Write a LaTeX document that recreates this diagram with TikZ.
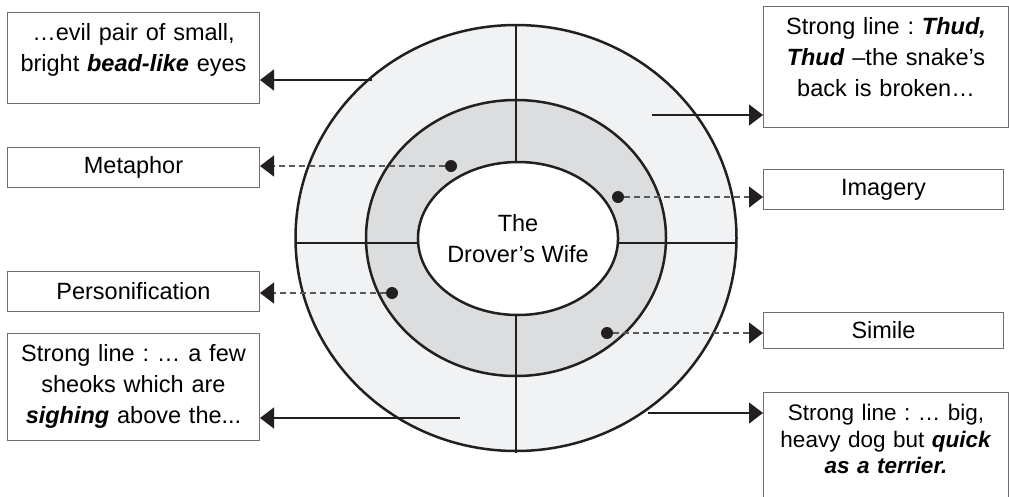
\documentclass[tikz,border=0pt]{standalone}
\usepackage{fontspec}
\setmainfont{Liberation Sans}
\usetikzlibrary{arrows.meta,shapes.geometric}
\definecolor{inkline}{RGB}{35,31,32}
\definecolor{ringouter}{RGB}{241,242,243}
\definecolor{ringinner}{RGB}{220,221,222}
\definecolor{boxline}{RGB}{110,110,112}
\definecolor{dashgrey}{RGB}{88,89,91}
\frenchspacing

\begin{document}
\begin{tikzpicture}[x=1pt,y=-1pt,
    quote/.style={draw=boxline, line width=1pt, anchor=north west, align=center,
      text width=242pt, inner xsep=5pt, inner ysep=7pt, text height=21pt,
      font=\fontsize{23.5}{31}\selectfont},
    tag/.style={draw=boxline, line width=1pt, anchor=north west, align=center,
      minimum width=252pt, minimum height=40pt, inner sep=0pt,
      font=\fontsize{23.5}{31}\selectfont},
    dot/.style={circle, fill=inkline, inner sep=0pt, minimum size=12pt},
    solidarrow/.style={inkline, line width=1.3pt, -{Triangle[length=14pt,width=21pt]}},
    dasharrow/.style={dashgrey, line width=1.3pt, dash pattern=on 6pt off 4pt,
      -{Triangle[length=14pt,width=21pt,color=inkline]}}]
    \useasboundingbox (0,0) rectangle (1009,496);
    % Rings
    \fill[ringouter] (516,238) ellipse [x radius=220.5pt, y radius=213pt];
    \fill[ringinner] (516,238) ellipse [x radius=150pt, y radius=138pt];
    % Dividers
    \draw[inkline, line width=2.5pt] (296,243) -- (737,243);
    \draw[inkline, line width=2.5pt] (516,25) -- (516,453);
    \draw[inkline, line width=2.5pt] (516,238) ellipse [x radius=220.5pt, y radius=213pt];
    \draw[inkline, line width=2.5pt] (516,238) ellipse [x radius=150pt, y radius=138pt];
    % Centre
    \node[ellipse, draw=inkline, line width=2.5pt, fill=white, minimum width=180pt,
      minimum height=153pt, inner sep=0pt, align=center,
      font=\fontsize{23.5}{31}\selectfont] (wife) at (518,238.5) {The\\ Drover’s Wife};
    % Quotes and devices
    \node[quote, text depth=56pt] (eyes) at (7,12)
      {…evil pair of small,\\ bright \textbf{\textit{bead-like}} eyes};
    \node[quote, text width=235pt, text depth=86pt] (thud) at (763,6)
      {Strong line : \textbf{\textit{Thud,}}\\ \textbf{\textit{Thud}} –the snake’s\\ back is broken…};
    \node[tag] (metaphor) at (7,147) {Metaphor};
    \node[tag, minimum width=240pt] (imagery) at (763,169) {Imagery};
    \node[tag] (personif) at (7,271) {Personification};
    \node[tag, minimum width=240pt, minimum height=36pt] (simile) at (763,312) {Simile};
    \node[quote, text depth=72pt] (sighing) at (7,333)
      {Strong line : … a few\\ sheoks which are\\ \textbf{\textit{sighing}} above the...};
    \node[quote, text width=235pt, text depth=82pt,
      font=\fontsize{22.5}{26.5}\selectfont] (terrier) at (763,392)
      {Strong line : … big,\\ heavy dog but \textbf{\textit{quick}}\\ \textbf{\textit{as a terrier.}}};
    % Dots
    \node[dot] (metdot) at (451,166) {};
    \node[dot] (imgdot) at (618,197) {};
    \node[dot] (perdot) at (392,293) {};
    \node[dot] (simdot) at (607,333) {};
    % Arrows
    \coordinate (eyesfrom) at (372,80);
    \coordinate (thudfrom) at (652,115);
    \coordinate (sighfrom) at (460,418);
    \coordinate (terrfrom) at (648,413);
    \draw[solidarrow] (eyesfrom) -- (eyesfrom -| eyes.east);
    \draw[solidarrow] (thudfrom) -- (thudfrom -| thud.west);
    \draw[solidarrow] (sighfrom) -- (sighfrom -| sighing.east);
    \draw[solidarrow] (terrfrom) -- (terrfrom -| terrier.west);
    \draw[dasharrow] (metdot) -- (metdot -| metaphor.east);
    \draw[dasharrow] (imgdot) -- (imgdot -| imagery.west);
    \draw[dasharrow] (perdot) -- (perdot -| personif.east);
    \draw[dasharrow] (simdot) -- (simdot -| simile.west);
\end{tikzpicture}
\end{document}
